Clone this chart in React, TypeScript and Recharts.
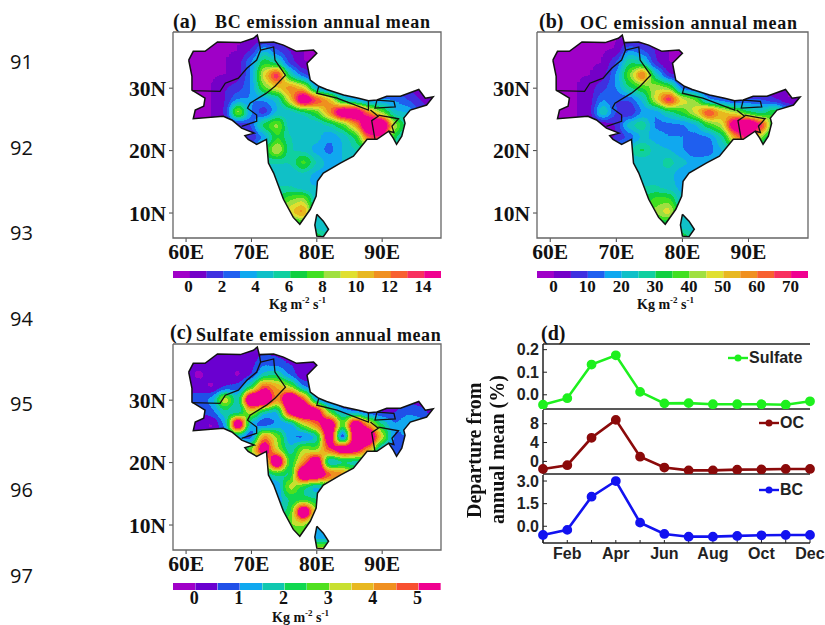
import React from "react";
import {
  Bar,
  BarChart,
  Cell,
  Line,
  LineChart,
  ReferenceLine,
  Scatter,
  ScatterChart,
  XAxis,
  YAxis,
} from "recharts";

const pageNumbers = ["91", "92", "93", "94", "95", "96", "97"];
const lonGrid = [58, 60, 62, 64, 66, 68, 70, 72, 74, 76, 78, 80, 82, 84, 86, 88, 90, 92, 94, 96, 98];
const latGrid = [38, 36, 34, 32, 30, 28, 26, 24, 22, 20, 18, 16, 14, 12, 10, 8, 6];

const bcRows = [
  [0, 0, 0, 0, 0, 0, 0, 0, 0, 0, 0, 0, 0, 0, 0, 0, 0, 0, 0, 0, 0],
  [0, 0, 0, 0, 0, 0, 1, 4, 2, 1, 0, 0, 0, 0, 0, 0, 0, 0, 0, 0, 0],
  [0, 0, 0, 0, 0, 0.5, 3, 7, 5, 1.5, 0, 0, 0, 0, 0, 0, 0, 0, 0, 0, 0],
  [0, 0, 0, 0, 0, 0.5, 3, 10, 15, 5, 2, 0.5, 0, 0, 0, 0, 0, 0, 0, 0, 0],
  [0, 0, 0, 0, 1, 1.5, 3, 8, 10, 12, 10, 3, 1, 1, 1, 1, 1, 1, 1, 0, 0],
  [0, 0, 0, 0, 1, 3, 3, 3, 4, 10, 18, 14, 11, 5, 3, 2, 3, 3, 2, 1, 0],
  [0, 0, 0, 0, 1, 10, 3, 1, 4, 4, 5, 7, 12, 18, 18, 12, 8, 4, 4, 2, 1],
  [0, 0, 0, 0, 0.5, 0.5, 2, 7, 9, 4, 4, 4, 5, 7, 11, 19, 19, 9, 5, 3, 1],
  [0, 0, 0, 0, 1, 1, 1, 3, 7, 5, 4.5, 4.5, 3, 4, 6, 13, 14, 6, 4, 4, 4],
  [3, 3, 3, 3, 3, 3, 3, 6, 10, 5, 4.5, 3.5, 2.5, 4, 5, 6, 6, 5, 4, 4, 4],
  [5, 5, 5, 5, 5, 5, 5, 5, 5, 5, 8, 5, 3.5, 4, 4, 4, 4, 4, 4, 4, 4],
  [4, 4, 4, 4, 4, 4, 4, 4, 4, 4, 4.5, 3.5, 3.5, 3.5, 4, 4, 4, 4, 4, 4, 4],
  [5, 5, 5, 5, 5, 5, 5, 5, 5, 5, 4, 4, 4, 4, 4, 4, 4, 4, 4, 4, 4],
  [6, 6, 6, 6, 6, 6, 6, 6, 6, 8, 9, 4, 4, 4, 4, 4, 4, 4, 4, 4, 4],
  [6, 6, 6, 6, 6, 6, 6, 6, 8, 10, 12, 5, 4, 4, 4, 4, 4, 4, 4, 4, 4],
  [5, 5, 5, 5, 5, 5, 5, 5, 5, 5, 6, 4, 4, 4, 4, 4, 4, 4, 4, 4, 4],
  [5, 5, 5, 5, 5, 5, 5, 5, 5, 5, 7, 7, 5, 5, 5, 5, 5, 5, 5, 5, 5],
];

const ocRows = [
  [0, 0, 0, 0, 0, 0, 0, 0, 0, 0, 0, 0, 0, 0, 0, 0, 0, 0, 0, 0, 0],
  [0, 0, 0, 0, 0, 0, 0, 15, 10, 5, 0, 0, 0, 0, 0, 0, 0, 0, 0, 0, 0],
  [0, 0, 0, 0, 0, 0, 10, 30, 25, 5, 0, 0, 0, 0, 0, 0, 0, 0, 0, 0, 0],
  [0, 0, 0, 0, 0, 3, 15, 40, 68, 25, 5, 3, 0, 0, 0, 0, 0, 0, 0, 0, 0],
  [0, 0, 0, 0, 3, 8, 15, 30, 35, 45, 40, 10, 5, 3, 3, 3, 3, 3, 3, 0, 0],
  [0, 0, 0, 0, 3, 15, 10, 10, 20, 48, 75, 50, 42, 15, 10, 5, 10, 10, 5, 0, 0],
  [0, 0, 0, 0, 3, 28, 10, 3, 15, 15, 25, 35, 48, 72, 55, 45, 30, 25, 38, 20, 5],
  [0, 0, 0, 0, 0, 0, 5, 25, 30, 13, 13, 13, 18, 35, 45, 88, 95, 72, 30, 15, 5],
  [0, 0, 0, 0, 0, 0, 5, 10, 20, 18, 15, 15, 13, 13, 25, 55, 75, 40, 20, 15, 15],
  [20, 20, 20, 20, 20, 20, 20, 25, 33, 22, 20, 15, 10, 12, 20, 25, 25, 20, 20, 20, 20],
  [20, 20, 20, 20, 20, 20, 20, 20, 20, 22, 28, 22, 18, 18, 18, 18, 18, 18, 18, 18, 18],
  [22, 22, 22, 22, 22, 22, 22, 22, 22, 22, 22, 15, 15, 15, 15, 15, 15, 15, 15, 15, 15],
  [25, 25, 25, 25, 25, 25, 25, 25, 25, 25, 22, 18, 18, 18, 18, 18, 18, 18, 18, 18, 18],
  [30, 30, 30, 30, 30, 30, 30, 30, 30, 38, 38, 20, 20, 20, 20, 20, 20, 20, 20, 20, 20],
  [30, 30, 30, 30, 30, 30, 30, 30, 35, 42, 50, 25, 20, 20, 20, 20, 20, 20, 20, 20, 20],
  [28, 28, 28, 28, 28, 28, 28, 28, 28, 28, 28, 20, 20, 20, 20, 20, 20, 20, 20, 20, 20],
  [25, 25, 25, 25, 25, 25, 25, 25, 25, 25, 35, 35, 25, 25, 25, 25, 25, 25, 25, 25, 25],
];

const sulfateRows = [
  [0.3, 0.3, 0.3, 0.3, 0.3, 0.3, 0.3, 0.3, 0.3, 0.3, 0.3, 0.3, 0, 0, 0, 0, 0, 0, 0, 0, 0],
  [0.3, 0.3, 0.3, 0.3, 0.3, 0.3, 0.3, 0.8, 0.6, 0.4, 0.3, 0.3, 0, 0, 0, 0, 0, 0, 0, 0, 0],
  [0.3, 0.3, -0.2, 0.3, 0.3, -0.2, 0.4, 1.6, 1.9, 0.8, -0.1, 0.3, 0, 0, 0, 0, 0, 0, 0, 0, 0],
  [0.4, 0.4, 0.3, -0.2, 0.4, 0.7, 2, 5, 4, 3, 1, 0.4, 0.3, 0, 0, 0, 0, 0, 0, 0, 0],
  [0.5, 0.5, 0.7, 1.2, 3.8, 1.5, 7.5, 7.5, 4, 7.5, 5, 1, 0.3, 0.3, 0.3, 0.3, 0.3, 0.3, 0.3, 0.3, 0.3],
  [0.4, 0.4, 0.4, 0.8, 1.8, 1.2, 3.5, 1.5, 1.2, 6, 7.5, 6.5, 2.5, 1.2, 0.8, 0.4, 0.4, 0.4, 0.9, 0.6, 0.3],
  [0.3, 0.3, 0.4, -0.2, 1, 7.5, 1, 0.4, 1, 1, 3, 4.5, 7, 2.5, 7, 4, 2, 1, 1.5, 1.5, 0.5],
  [0.3, 0.3, 0.3, 0.3, 0.5, 1, 0.4, 4.5, 3, 1, 0.6, 1.3, 6.5, -1, 6.5, 7.5, 3.5, 0.8, 1, 0.5, 0.5],
  [1, 1, 1, 1, 1, 1, 3, 6.5, 3, 1.5, 3.2, 2.6, 5, 6.5, 6, 4, 1, 0.5, 0.5, 0.5, 0.5],
  [2, 2, 2, 2, 2, 2, 2, 2.5, 7.5, 2, 4, 7, 0.8, 1.5, 1.5, 1.5, 1.5, 1, 1, 1, 1],
  [1.5, 1.5, 1.5, 1.5, 1.5, 1.5, 1.5, 1.5, 2, 1.7, 7.5, 7, 5, 4.5, 3, 3, 3, 3, 3, 3, 3],
  [1, 1, 1, 1, 1, 1, 1, 1, 0.9, 3.5, 2, 1, 2, 2, 2, 2, 2, 2, 2, 2, 2],
  [1, 1, 1, 1, 1, 1, 1, 1, 1.2, 2, 2, 2, 2, 2, 2, 2, 2, 2, 2, 2, 2],
  [1.5, 1.5, 1.5, 1.5, 1.5, 1.5, 1.5, 1.5, 1.5, 2.2, 7.5, 3, 2, 2, 2, 2, 2, 2, 2, 2, 2],
  [2.5, 2.5, 2.5, 2.5, 2.5, 2.5, 2.5, 2.5, 2.5, 3, 3, 1.5, 1, 1, 1, 1, 1, 1, 1, 1, 1],
  [2.5, 2.5, 2.5, 2.5, 2.5, 2.5, 2.5, 2.5, 2.5, 2.6, 2.6, 1, 1, 1, 1, 1, 1, 1, 1, 1, 1],
  [2, 2, 2, 2, 2, 2, 2, 2, 2, 2, 2, 3.5, 3.5, 3, 3, 3, 3, 3, 3, 3, 3],
];

const landOutline = [
  [60.4, 34.5], [61.1, 35.9], [62.9, 35.9], [64.8, 37.4], [68.3, 37.3], [70.3, 38], [70.9, 38.5], [71.2, 37.3],
  [73.4, 37.4], [74.9, 36.9], [76.9, 35.9], [79.5, 36.1], [80, 35.6], [78.5, 34], [79, 31.3], [80.3, 30.3],
  [81.5, 29.8], [84.1, 28.9], [86.4, 28.4], [87.9, 28], [89.2, 28.1], [90.7, 28.7], [92.8, 28.7], [95.6, 29.8],
  [96.6, 28.4], [97.8, 28.6], [96.8, 27.3], [94.3, 26.5], [93.3, 25.2], [93.5, 24.4], [93, 22.3], [92.2, 21],
  [91.7, 22], [91, 23.1], [89.2, 21.8], [87.7, 21.8], [85.6, 19.1], [83.6, 18], [81, 16.4], [80.1, 15.1],
  [79.9, 12.7], [79, 10.6], [77.4, 8.2], [76.4, 9.3], [74.9, 12.2], [73.4, 16.4], [72.6, 18], [72.3, 21.8],
  [70.8, 21], [69.5, 21.8], [69, 22.4], [70.4, 22.8], [68.5, 23.6], [67, 24.9], [65.7, 25.5], [61.1, 25.1],
  [61.4, 26.5], [62.7, 27.1], [62.9, 28.4], [60.9, 29.7], [60.9, 31.9], [60.4, 34.5],
];
const sriLanka = [[80, 9.8], [81, 8.7], [81.8, 7.4], [81, 6.2], [80, 6.3], [79.7, 8.1], [80, 9.8]];
const borderLines = [
  [[60.9, 29.6], [65.2, 29.5], [66, 30.8], [68, 31.6], [69.3, 33.2], [70.8, 34.5], [71.4, 36.1], [71.2, 37.3]],
  [[71.4, 36.1], [73.4, 36.6], [73.6, 34.5], [75.2, 32.1], [73.6, 30.3], [72.3, 29.2], [69.8, 27.6], [69.4, 26.8], [70.8, 25.7], [70.8, 24.7], [68.5, 23.9]],
  [[80.3, 30.3], [80, 29.2], [83.1, 28.4], [87.9, 26.5], [87.9, 28]],
  [[89.2, 28.1], [88.9, 26.8], [92, 27], [91.8, 27.9], [89.2, 28.1]],
  [[88.2, 26.5], [89.4, 25.5], [88.4, 24.8], [88.9, 21.8]],
  [[89.4, 25.7], [92.5, 25.1], [91.5, 23.9], [91.8, 22.9], [91, 23.1]],
];

const bandColors16 = ["#a000c8", "#7400c8", "#4030e0", "#2060f0", "#10a8f0", "#10c0c8", "#10d0a0", "#10d040", "#40e020", "#a0e040", "#e0e030", "#e8b820", "#f09020", "#f86030", "#f83060", "#f00090"];
const bandColors12 = ["#a000c8", "#6a00d0", "#2050e8", "#10a8f0", "#10c8b0", "#10d850", "#50e020", "#c8e030", "#e8b820", "#f09020", "#f85030", "#f00090"];
const bcBandLabels = ["0", "", "2", "", "4", "", "6", "", "8", "", "10", "", "12", "", "14", ""];
const ocBandLabels = ["0", "", "10", "", "20", "", "30", "", "40", "", "50", "", "60", "", "70", ""];
const sulfateBandLabels = ["0", "", "1", "", "2", "", "3", "", "4", "", "5", ""];

const months = ["Jan", "Feb", "Mar", "Apr", "May", "Jun", "Jul", "Aug", "Sep", "Oct", "Nov", "Dec"];
const shownMonths = ["Feb", "Apr", "Jun", "Aug", "Oct", "Dec"];
const sulfateDeparture = [-0.044, -0.015, 0.134, 0.175, 0.013, -0.038, -0.037, -0.042, -0.042, -0.042, -0.044, -0.029];
const ocDeparture = [-1.6, -0.8, 5, 8.8, 1, -1.3, -1.9, -1.9, -1.75, -1.7, -1.6, -1.6];
const bcDeparture = [-0.58, -0.24, 1.96, 3, 0.24, -0.51, -0.69, -0.69, -0.64, -0.6, -0.58, -0.58];

const SERIF = "'Liberation Serif', serif";
const SANS = "'Liberation Sans', sans-serif";
const HEADROOM = 5; // extra top-colour steps so hot cells stay pink after the blur

const toPoints = (line: number[][]) => line.map(([lon, lat]) => ({ lon, lat }));

const oceanMask = () => {
  const frame = [[58, 39], [99, 39], [99, 6], [58, 6], [58, 39]];
  const land = [...landOutline].reverse();
  const island = [...sriLanka].reverse();
  return toPoints([...frame, ...land, ...island, land[0], [58, 39]]);
};

const hideDot = () => <g />;

function HeatFilter({ id, colors, x, y, width, height }: any) {
  const padded = [...colors, ...Array(HEADROOM).fill(colors[colors.length - 1])];
  const hex = padded.map((c: string) => [parseInt(c.slice(1, 3), 16) / 255, parseInt(c.slice(3, 5), 16) / 255, parseInt(c.slice(5, 7), 16) / 255]);
  const table = (i: number) => hex.map((c: number[]) => c[i].toFixed(3)).join(" ");
  return (
    <filter id={id} filterUnits="userSpaceOnUse" x={x} y={y} width={width} height={height} colorInterpolationFilters="sRGB">
      <feGaussianBlur stdDeviation="4" />
      <feComponentTransfer>
        <feFuncR type="discrete" tableValues={table(0)} />
        <feFuncG type="discrete" tableValues={table(1)} />
        <feFuncB type="discrete" tableValues={table(2)} />
      </feComponentTransfer>
    </filter>
  );
}

function EmissionMap({ id, rows, vmin, vmax, colors, left, top, plotWidth, plotHeight }: any) {
  const cells = rows.flatMap((row: number[], r: number) =>
    row.map((value, c) => ({ lon: lonGrid[c], lat: latGrid[r], value })),
  );
  const axisLeft = 53;
  const marginTop = 6;
  const axisBottom = 36;
  const step = (vmax - vmin) / colors.length;
  const top_ = vmax + HEADROOM * step;
  const cellShape = (p: any) => {
    const g = Math.round(Math.max(0, Math.min(1, (p.payload.value - vmin) / (top_ - vmin))) * 255);
    return <rect x={p.cx - 7} y={p.cy - 7} width={14} height={14} fill={`rgb(${g},${g},${g})`} />;
  };
  const tickStyle = { fontFamily: SERIF, fontWeight: "bold", fontSize: 21.5, fill: "#111" };
  return (
    <div style={{ position: "absolute", left: left - axisLeft, top: top - marginTop }}>
      <style>{`.${id} { filter: url(#${id}-f); }`}</style>
      <svg width={0} height={0} style={{ position: "absolute" }}>
        <defs>
          <HeatFilter id={`${id}-f`} colors={colors} x={axisLeft} y={marginTop} width={plotWidth} height={plotHeight} />
        </defs>
      </svg>
      <ScatterChart
        width={axisLeft + plotWidth + 6}
        height={marginTop + plotHeight + axisBottom}
        margin={{ top: marginTop, right: 6, left: 0, bottom: 0 }}
      >
        <XAxis
          type="number"
          dataKey="lon"
          domain={[58, 99]}
          ticks={[60, 70, 80, 90]}
          tickFormatter={(v: number) => `${v}E`}
          axisLine={false}
          tickLine={{ stroke: "#444" }}
          tickSize={4}
          tickMargin={2}
          height={axisBottom}
          tick={tickStyle}
        />
        <YAxis
          type="number"
          dataKey="lat"
          domain={[6, 39]}
          ticks={[10, 20, 30]}
          tickFormatter={(v: number) => `${v}N`}
          axisLine={false}
          tickLine={{ stroke: "#444" }}
          tickSize={4}
          tickMargin={3}
          width={axisLeft}
          tick={tickStyle}
        />
        <Scatter data={cells} className={id} shape={cellShape} isAnimationActive={false} />
        <Scatter
          data={oceanMask()}
          shape={hideDot}
          line={{ fill: "#fff", stroke: "none", fillRule: "evenodd" }}
          isAnimationActive={false}
        />
        <Scatter data={toPoints(landOutline)} shape={hideDot} line={{ stroke: "#111", strokeWidth: 1.5 }} isAnimationActive={false} />
        <Scatter data={toPoints(sriLanka)} shape={hideDot} line={{ stroke: "#111", strokeWidth: 1.5 }} isAnimationActive={false} />
        {borderLines.map((line, i) => (
          <Scatter key={i} data={toPoints(line)} shape={hideDot} line={{ stroke: "#111", strokeWidth: 1.3 }} isAnimationActive={false} />
        ))}
        <Scatter
          data={toPoints([[58, 39], [99, 39], [99, 6], [58, 6], [58, 39]])}
          shape={hideDot}
          line={{ stroke: "#666", strokeWidth: 1.3 }}
          isAnimationActive={false}
        />
      </ScatterChart>
    </div>
  );
}

function ColorBar({ colors, labels, left, top, width, fontSize, shift }: any) {
  const data = colors.map((color: string, i: number) => ({ band: i, label: labels[i], span: 1, color }));
  const bandTick = (p: any) => (
    <text x={p.x + shift} y={p.y + 6} textAnchor="middle" fontFamily={SERIF} fontWeight="bold" fontSize={fontSize} fill="#111">
      {labels[p.payload.value]}
    </text>
  );
  return (
    <div style={{ position: "absolute", left, top }}>
      <BarChart width={width} height={32} data={data} barCategoryGap={0} margin={{ top: 0, right: 0, left: 0, bottom: 0 }}>
        <XAxis dataKey="band" interval={0} height={25} axisLine={false} tickLine={false} tick={bandTick} />
        <YAxis hide domain={[0, 1]} />
        <Bar dataKey="span" isAnimationActive={false}>
          {data.map((d: any) => (
            <Cell key={d.band} fill={d.color} />
          ))}
        </Bar>
      </BarChart>
    </div>
  );
}

function Unit({ left, top }: any) {
  return (
    <div style={{ position: "absolute", left, top, fontFamily: SERIF, fontWeight: "bold", fontSize: 14, whiteSpace: "nowrap", color: "#111" }}>
      Kg m<sup style={{ fontSize: 9, lineHeight: 0 }}>-2</sup> s<sup style={{ fontSize: 9, lineHeight: 0 }}>-1</sup>
    </div>
  );
}

function Title({ left, top, size = 18, spacing = 0, children }: any) {
  return (
    <div style={{ position: "absolute", left, top, fontFamily: SERIF, fontWeight: "bold", fontSize: size, letterSpacing: spacing, whiteSpace: "nowrap", color: "#111", lineHeight: 1 }}>
      {children}
    </div>
  );
}

function DeparturePanel({ values, color, name, top, plotHeight, domain, ticks, digits, showMonths, showTop, legendTop, legendLeft }: any) {
  const data = months.map((month, i) => ({ month, value: values[i] }));
  const axisLeft = 40;
  const headTop = 10;
  const axisBottom = showMonths ? 30 : 0;
  const tickStyle = { fontFamily: SANS, fontWeight: "bold", fontSize: 16, fill: "#222" };
  return (
    <div style={{ position: "absolute", left: 543 - axisLeft, top: top - headTop }}>
      <LineChart width={axisLeft + 267 + 15} height={headTop + plotHeight + axisBottom} data={data} margin={{ top: headTop, right: 15, left: 0, bottom: 0 }}>
        <XAxis
          dataKey="month"
          interval={0}
          height={axisBottom || 1}
          axisLine={{ stroke: "#222", strokeWidth: 1.5 }}
          tickLine={{ stroke: "#222" }}
          tickSize={-3}
          tickMargin={8}
          tick={showMonths ? tickStyle : false}
          tickFormatter={(m: string) => (shownMonths.includes(m) ? m : "")}
        />
        <YAxis
          domain={domain}
          ticks={ticks}
          interval={0}
          allowDataOverflow
          width={axisLeft}
          axisLine={{ stroke: "#222", strokeWidth: 1.5 }}
          tickLine={{ stroke: "#222" }}
          tickSize={-4}
          tickMargin={8}
          tick={tickStyle}
          tickFormatter={(v: number) => v.toFixed(digits)}
        />
        {showTop && <ReferenceLine y={domain[1]} stroke="#222" strokeWidth={1.5} />}
        <Line dataKey="value" stroke={color} strokeWidth={2.6} dot={{ r: 3.6, fill: color, stroke: color }} isAnimationActive={false} />
      </LineChart>
      <div style={{ position: "absolute", left: legendLeft - (543 - axisLeft), top: legendTop - top + headTop - 10, display: "flex", alignItems: "center", fontFamily: SANS, fontWeight: "bold", fontSize: 16, color: "#222", lineHeight: "20px" }}>
        <svg width={20} height={10} style={{ marginRight: 1 }}>
          <line x1={0} y1={5} x2={20} y2={5} stroke={color} strokeWidth={2.4} />
          <circle cx={10} cy={5} r={3.5} fill={color} />
        </svg>
        {name}
      </div>
    </div>
  );
}

export default function App() {
  return (
    <div style={{ position: "absolute", left: 0, top: 0, width: 825, height: 625, background: "#fff", overflow: "hidden" }}>
      {pageNumbers.map((n, i) => (
        <div key={n} style={{ position: "absolute", left: 10, top: 49 + i * 85.6, fontFamily: "'Open Sans', sans-serif", fontSize: 20, lineHeight: "26px", color: "#111" }}>
          {n}
        </div>
      ))}

      <Title left={173} top={11} size={20}>(a)</Title>
      <Title left={215} top={13} spacing={0.7}>BC emission annual mean</Title>
      <EmissionMap id="bc" rows={bcRows} vmin={-1} vmax={15} colors={bandColors16} left={173} top={32} plotWidth={268} plotHeight={206} />
      <ColorBar colors={bandColors16} labels={bcBandLabels} left={173} top={271} width={268} fontSize={17} shift={7} />
      <Unit left={269} top={297} />

      <Title left={539} top={11} size={20}>(b)</Title>
      <Title left={580} top={14} spacing={0.7}>OC emission annual mean</Title>
      <EmissionMap id="oc" rows={ocRows} vmin={-5} vmax={75} colors={bandColors16} left={537} top={32} plotWidth={271} plotHeight={206} />
      <ColorBar colors={bandColors16} labels={ocBandLabels} left={537} top={271} width={271} fontSize={17} shift={8} />
      <Unit left={637} top={297} />

      <Title left={170} top={322} size={20}>(c)</Title>
      <Title left={196} top={326} spacing={0.6}>Sulfate emission annual mean</Title>
      <EmissionMap id="so4" rows={sulfateRows} vmin={-0.5} vmax={5.5} colors={bandColors12} left={173} top={344} plotWidth={268} plotHeight={206} />
      <ColorBar colors={bandColors12} labels={sulfateBandLabels} left={173} top={583} width={268} fontSize={18} shift={10} />
      <Unit left={272} top={610} />

      <Title left={541} top={323} size={20}>(d)</Title>
      <DeparturePanel values={sulfateDeparture} color="#1ef01e" name="Sulfate" top={344} plotHeight={66} domain={[-0.063, 0.225]} ticks={[0, 0.1, 0.2]} digits={1} showTop legendTop={358} legendLeft={728} />
      <DeparturePanel values={ocDeparture} color="#8b0a0a" name="OC" top={410} plotHeight={65} domain={[-2.67, 10.9]} ticks={[0, 4, 8]} digits={0} legendTop={423} legendLeft={759} />
      <DeparturePanel values={bcDeparture} color="#1212f0" name="BC" top={475} plotHeight={68} domain={[-1.11, 3.4]} ticks={[0, 1.5, 3]} digits={1} showMonths legendTop={490} legendLeft={759} />
      <div style={{ position: "absolute", left: 463, top: 340, width: 46, height: 220, writingMode: "vertical-rl", transform: "rotate(180deg)", textAlign: "center", fontFamily: SERIF, fontWeight: "bold", fontSize: 20, lineHeight: "23px", color: "#111", whiteSpace: "nowrap" }}>
        Departure from
        <br />
        annual mean (%)
      </div>
    </div>
  );
}
